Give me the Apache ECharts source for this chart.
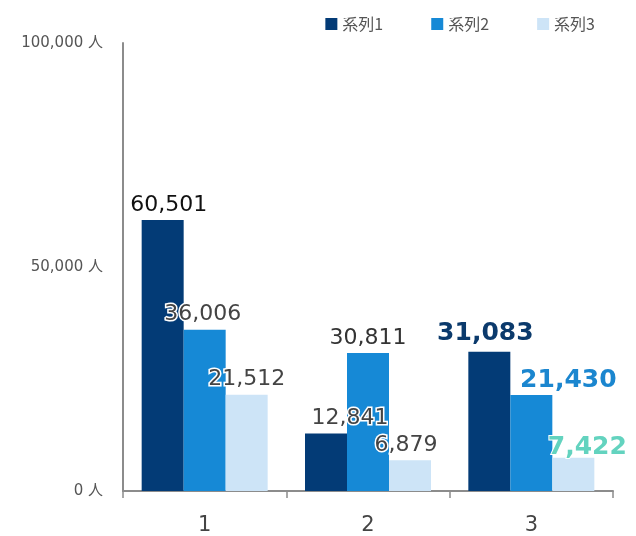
<!DOCTYPE html>
<html>
<head>
<meta charset="utf-8">
<script src="https://cdn.jsdelivr.net/npm/echarts@6/dist/echarts.min.js"></script>
<style>
  html, body { margin: 0; padding: 0; background: #fff; }
  #chart { width: 636px; height: 536px; }
</style>
</head>
<body>
<div id="chart"></div>
<script>
// Categories and series values
const categories = ['1', '2', '3'];
const seriesNames = ['系列1', '系列2', '系列3'];
const series1 = [60501, 12841, 31083];
const series2 = [36006, 30811, 21430];
const series3 = [21512, 6879, 7422];
const yTicks = [0, 50000, 100000];

const colors = ['#033b76', '#1689d6', '#cde4f7'];

// Label styling per bar: plain, outlined (white halo) or emphasized (bold, coloured)
const plain = { color: '#333', fontSize: 22, fontWeight: 'normal' };
const halo = { color: '#444', fontSize: 22, fontWeight: 'normal', textBorderColor: '#fff', textBorderWidth: 3 };
const labelStyles = [
  [Object.assign({}, plain, { color: '#111', offset: [6, 0] }), Object.assign({}, halo, { offset: [24, 0] }), { color: '#0b3a6c', fontSize: 25, fontWeight: 'bold', offset: [-4, -2] }],
  [Object.assign({}, halo, { offset: [-2, 0] }), plain, { color: '#1b86cf', fontSize: 25, fontWeight: 'bold', offset: [37, 2] }],
  [halo, Object.assign({}, halo, { offset: [-4, 0] }), { color: '#63d3bf', fontSize: 25, fontWeight: 'bold', offset: [14, 6], textBorderColor: '#fff', textBorderWidth: 2 }]
];

const values = [series1, series2, series3];

const chart = echarts.init(document.getElementById('chart'));
chart.setOption({
  animation: false,
  textStyle: { fontFamily: '"DejaVu Sans", "Noto Sans CJK JP", sans-serif' },
  legend: {
    top: 11,
    right: 36,
    itemWidth: 12,
    itemHeight: 12,
    itemGap: 48,
    icon: 'rect',
    textStyle: { color: '#555', fontSize: 16, fontFamily: '"Noto Sans CJK JP", sans-serif' }
  },
  grid: { left: 123, right: 23, top: 43, bottom: 43 },
  xAxis: {
    type: 'category',
    data: categories,
    axisLine: { lineStyle: { color: '#8c8c8c', width: 2 } },
    axisTick: { show: true, length: 7, lineStyle: { color: '#8c8c8c', width: 1.5 } },
    axisLabel: { color: '#444', fontSize: 21, margin: 24 }
  },
  yAxis: {
    type: 'value',
    min: yTicks[0],
    max: yTicks[yTicks.length - 1],
    interval: yTicks[1] - yTicks[0],
    splitLine: { show: false },
    axisTick: { show: false },
    axisLine: { show: true, lineStyle: { color: '#8c8c8c', width: 2 } },
    axisLabel: {
      color: '#555',
      fontSize: 15,
      margin: 20,
      formatter: v => v.toLocaleString('en-US') + ' 人'
    }
  },
  series: values.map((vals, si) => ({
    name: seriesNames[si],
    type: 'bar',
    barWidth: 42,
    barGap: '0%',
    itemStyle: { color: colors[si] },
    label: { show: true, position: 'top', distance: 4, formatter: p => p.value.toLocaleString('en-US') },
    data: vals.map((v, ci) => ({ value: v, label: labelStyles[si][ci] }))
  }))
});
</script>
</body>
</html>
